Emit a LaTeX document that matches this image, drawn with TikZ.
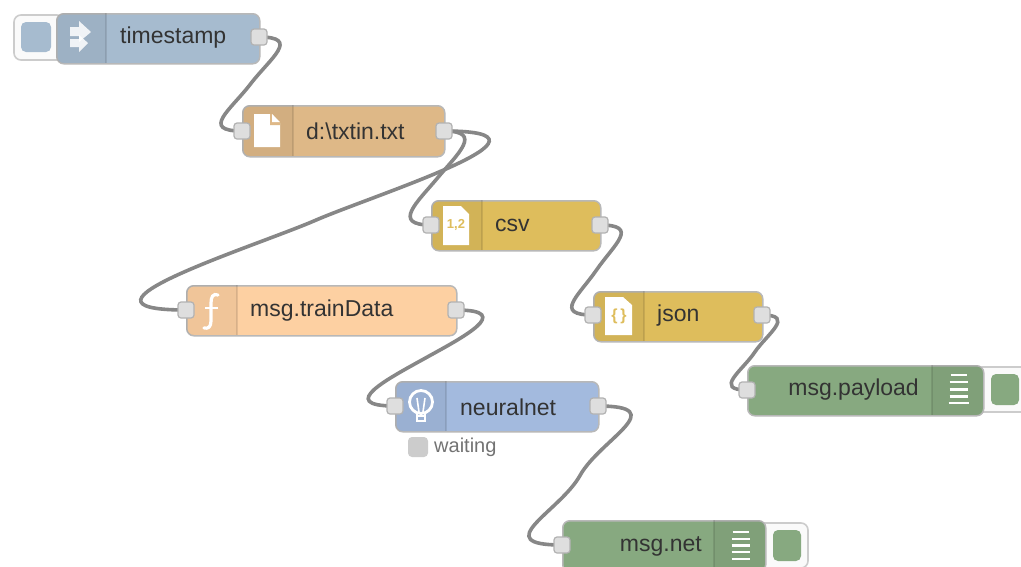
\documentclass[tikz,border=0pt]{standalone}
\usepackage{fontspec}
\setmainfont{Liberation Sans}
\usetikzlibrary{calc}
\definecolor{cinject}{HTML}{A6BBCF}
\definecolor{cfile}{HTML}{DEB887}
\definecolor{ccsv}{HTML}{DEBD5C}
\definecolor{cfunc}{HTML}{FDD0A2}
\definecolor{cneural}{HTML}{A3BADE}
\definecolor{cdebug}{HTML}{87A980}
\tikzset{
  flownode/.style={draw=black!28,line width=1.5pt,rounded corners=7pt,inner sep=0pt,anchor=north west},
  port/.style={draw=black!30,fill=black!13,line width=1.2pt,rounded corners=3pt,minimum size=16pt,inner sep=0pt},
  wire/.style={draw=black!47,line width=3.6pt,line cap=round},
  label/.style={text=black!80,font=\fontsize{23}{23}\selectfont,inner sep=0pt},
  tabline/.style={draw=black,draw opacity=.1,line width=1.2pt},
  tabfill/.style={fill=black,fill opacity=.05},
  btnframe/.style={draw=black!20,fill=black!2,line width=1.6pt,rounded corners=7pt},
  btninner/.style={rounded corners=5pt},
  icon/.style={fill=white,draw=none},
  iconline/.style={draw=white,line width=2.8pt},
}
\newcommand{\flow}[7]{% name x1 y1 x2 y2 colour tabx
  \node[flownode,fill=#6,minimum width=#4pt-#2pt,minimum height=#5pt-#3pt] (#1) at (#2,#3) {};
  \begin{scope}
    \clip[rounded corners=7pt] (#2,#3) rectangle (#4,#5);
    \ifdim #7pt<\dimexpr(#2pt+120pt)\relax
      \fill[tabfill] (#2,#3) rectangle (#7,#5);
    \else
      \fill[tabfill] (#7,#3) rectangle (#4,#5);
    \fi
  \end{scope}
  \draw[tabline] (#7,#3) -- (#7,#5);
}
\newcommand{\wirelink}[5]{% from to dx tx ty
  \draw[wire] (#1.center) .. controls +(#3,0) and +(#4,-#5) .. ($(#1.center)!.5!(#2.center)$)
     .. controls +(-#4,#5) and +(-#3,0) .. (#2.center);
}
\begin{document}
\begin{tikzpicture}[x=1pt,y=-1pt]
\useasboundingbox (0,0) rectangle (1021,566);
\clip (0,0) rectangle (1021,566);
\fill[white] (0,0) rectangle (1021,566);

% inject / debug buttons
\draw[btnframe] (14,15) rectangle (64,60);
\fill[cinject,btninner] (21,22) rectangle (51,52);
\draw[btnframe] (975,367) rectangle (1040,412);
\fill[cdebug,btninner] (991,374) rectangle (1019,405);
\draw[btnframe] (755,523) rectangle (808,568);
\fill[cdebug,btninner] (773,530) rectangle (801,561);

% flow nodes
\flow{ts}{56}{13}{259}{63}{cinject}{106}
\flow{file}{242}{105}{444}{156}{cfile}{293}
\flow{csvn}{431}{200}{600}{250}{ccsv}{482}
\flow{train}{186}{285}{456}{335}{cfunc}{237}
\flow{jsonn}{593}{291}{762}{341}{ccsv}{644}
\flow{neural}{395}{381}{598}{431}{cneural}{446}
\flow{payload}{747}{365}{983}{415}{cdebug}{932}
\flow{net}{562}{520}{765}{571}{cdebug}{714}

% wires
\coordinate (tsout) at (259,37);
\coordinate (filein) at (242,131);
\coordinate (fileout) at (444,131);
\coordinate (csvin) at (431,225);
\coordinate (csvout) at (600,225);
\coordinate (trainin) at (186,310);
\coordinate (trainout) at (456,310);
\coordinate (jsonin) at (593,315);
\coordinate (jsonout) at (762,315);
\coordinate (neuralin) at (395,406);
\coordinate (neuralout) at (598,406);
\coordinate (payin) at (747,390);
\coordinate (netin) at (562,545);

\wirelink{tsout}{filein}{42}{20}{26}
\wirelink{fileout}{csvin}{40}{20}{24}
\wirelink{fileout}{trainin}{135}{60}{26}
\wirelink{csvout}{jsonin}{40}{18}{26}
\wirelink{trainout}{neuralin}{60}{36}{20}
\wirelink{jsonout}{payin}{34}{12}{18}
\wirelink{neuralout}{netin}{75}{20}{36}

% ports
\foreach \p in {tsout,filein,fileout,csvin,csvout,trainin,trainout,jsonin,jsonout,neuralin,neuralout,payin,netin}
  \node[port] (p\p) at (\p) {};

% labels
\node[label,anchor=west] (ltime) at (120,38) {timestamp};
\node[label,anchor=west] (lfile) at (306,131) {d:\textbackslash txtin.txt};
\node[label,anchor=west] (lcsv) at (495,225) {csv};
\node[label,anchor=west] (ltrain) at (250,311) {msg.trainData};
\node[label,anchor=west] (ljson) at (657,316) {json};
\node[label,anchor=west] (lneural) at (460,407) {neuralnet};
\node[label,anchor=east] (lpay) at (919,390) {msg.payload};
\node[label,anchor=east] (lnet) at (702,546) {msg.net};

% status
\fill[black!20,rounded corners=4pt] (408,437) rectangle (428,457);
\node[text=black!55,font=\fontsize{20}{20}\selectfont,inner sep=0pt,anchor=west] (lwait) at (434,447) {waiting};

% icon: inject arrows
\fill[icon,fill opacity=.85] (70,27) -- (79,27) -- (79,21) -- (91,32) -- (79,42) -- (79,36) -- (70,36) -- cycle;
\fill[icon,fill opacity=.85] (70,39) -- (79,39) -- (79,35) -- (88,43) -- (79,52) -- (79,47) -- (70,47) -- cycle;

% icon: file
\fill[icon] (254,114) -- (272,114) -- (280,123) -- (280,147) -- (254,147) -- cycle;
\fill[cfile] (270,114) -- (270,125) -- (280,125) -- (280,122) -- (272,122) -- (272,114) -- cycle;
\fill[icon] (272,114) -- (280,122) -- (272,122) -- cycle;

% icon: csv
\fill[icon] (443,206) -- (461,206) -- (469,214) -- (469,245) -- (443,245) -- cycle;
\node[text=ccsv,font=\bfseries\fontsize{13}{13}\selectfont,inner sep=0pt] (icsv) at (456,225) {1,2};

% icon: json
\fill[icon] (605,297) -- (623,297) -- (632,305) -- (632,335) -- (605,335) -- cycle;
\node[text=ccsv,font=\bfseries\fontsize{16}{16}\selectfont,inner sep=0pt] (ijson) at (619,316) {\{\,\}};

% icon: function
\draw[iconline,line width=3.2pt,line cap=round] (218,295) .. controls (213,293) and (211,297) .. (211,303) -- (211,321) .. controls (211,327) and (208,329) .. (204,328);
\draw[iconline] (205,308) -- (218,308);

% icon: bulb
\draw[iconline] (421,402) circle (11.5);
\draw[iconline] (417,413) -- (417,421) -- (425,421) -- (425,413);
\draw[iconline,line width=2pt] (417,416) -- (425,416);
\draw[iconline,line width=1.6pt] (417,398) -- (419,412) (425,398) -- (423,412);

% icon: debug lines
\foreach \yy/\ww in {375/16,382/18,389.5/18,396.5/18,403/20}
  \draw[iconline,line width=2.4pt] (958.5-\ww/2,\yy) -- (958.5+\ww/2,\yy);
\foreach \yy/\ww in {532/16,539/18,545.5/18,552/18,559/18}
  \draw[iconline,line width=2.4pt] (740.5-\ww/2,\yy) -- (740.5+\ww/2,\yy);
\end{tikzpicture}
\end{document}
